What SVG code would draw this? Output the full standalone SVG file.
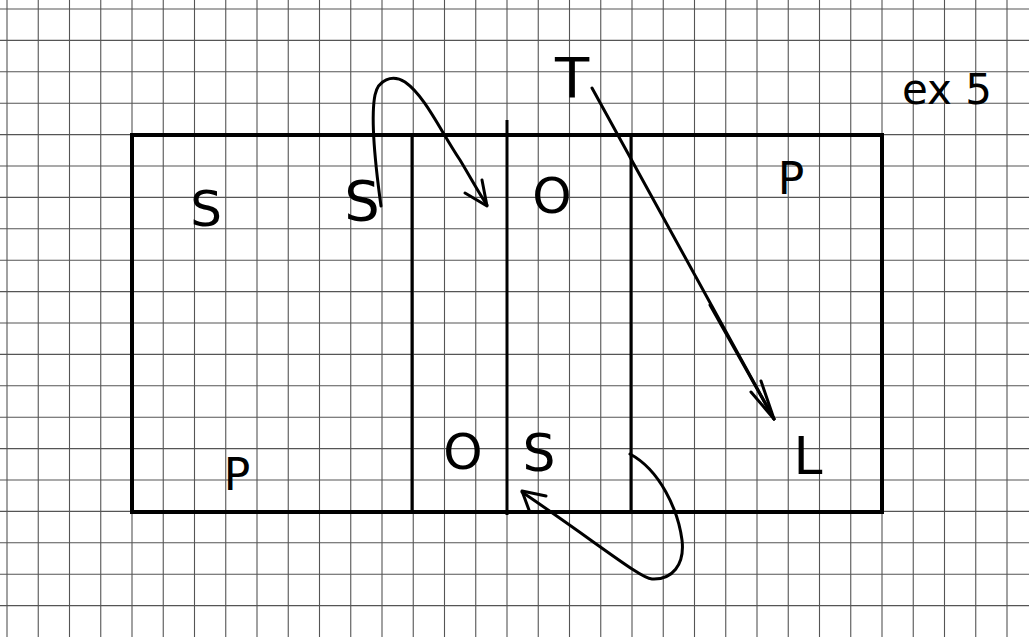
<svg xmlns="http://www.w3.org/2000/svg" width="1029" height="637" viewBox="0 0 1029 637">
<defs>
<style>
.g{stroke:#555;stroke-width:1.1;fill:none}
.frame{stroke:#000;stroke-width:4;fill:none}
.div{stroke:#000;stroke-width:3;fill:none}
.lab{font-family:"DejaVu Sans","Liberation Sans",sans-serif;fill:#000;text-anchor:middle}
.c{stroke:#000;stroke-width:3;fill:none;stroke-linecap:round;stroke-linejoin:round}
</style>
</defs>
<rect width="1029" height="637" fill="#fff"/>
<g id="grid" class="g">
<path d="M7 0V637M38.25 0V637M69.5 0V637M100.75 0V637M132 0V637M163.25 0V637M194.5 0V637M225.75 0V637M257 0V637M288.25 0V637M319.5 0V637M350.75 0V637M382 0V637M413.25 0V637M444.5 0V637M475.75 0V637M507 0V637M538.25 0V637M569.5 0V637M600.75 0V637M632 0V637M663.25 0V637M694.5 0V637M725.75 0V637M757 0V637M788.25 0V637M819.5 0V637M850.75 0V637M882 0V637M913.25 0V637M944.5 0V637M975.75 0V637M1007 0V637"/>
<path d="M0 9H1029M0 40.4H1029M0 71.8H1029M0 103.2H1029M0 134.6H1029M0 166H1029M0 197.4H1029M0 228.8H1029M0 260.2H1029M0 291.6H1029M0 323H1029M0 354.4H1029M0 385.8H1029M0 417.2H1029M0 448.6H1029M0 480H1029M0 511.4H1029M0 542.8H1029M0 574.2H1029M0 605.6H1029"/>
</g>
<g id="frame">
<rect class="frame" x="132" y="135" width="750" height="377"/>
<path class="div" d="M412 135V512"/>
<path class="div" d="M507 120V515"/>
<path class="div" d="M631 135V512"/>
</g>
<g id="labels">
<text id="S1" class="lab" x="206" y="226" font-size="50">S</text>
<text id="S2" class="lab" x="362" y="220" font-size="56">S</text>
<text id="O1" class="lab" x="552" y="213" font-size="50">O</text>
<text id="P1" class="lab" x="791" y="194" font-size="44">P</text>
<text id="T" class="lab" x="572" y="97" font-size="56">T</text>
<text id="ex5" class="lab" x="947" y="104" font-size="42">ex 5</text>
<text id="P2" class="lab" x="237" y="490" font-size="44">P</text>
<text id="O2" class="lab" x="463" y="469" font-size="50">O</text>
<text id="S3" class="lab" x="539" y="471" font-size="52">S</text>
<text id="L" class="lab" x="808" y="474" font-size="52">L</text>
</g>
<g id="connectors">
<path class="c" d="M381 206C376 170 370 120 375 95C378 80 392 74 405 82C425 96 440 130 460 160C472 180 480 195 487 205"/>
<path class="c" d="M465 193L487 206L482 180"/>
<path class="c" d="M592 88L774 419" stroke-width="2"/>
<path class="c" d="M710 305L774 419"/>
<path class="c" d="M751 392L774 419L761 381"/>
<path class="c" d="M630 454C660 470 678 510 682 540C685 565 672 580 652 579C640 578 600 545 522 492"/>
<path class="c" d="M546 496L522 491L529 510"/>
</g>
</svg>
